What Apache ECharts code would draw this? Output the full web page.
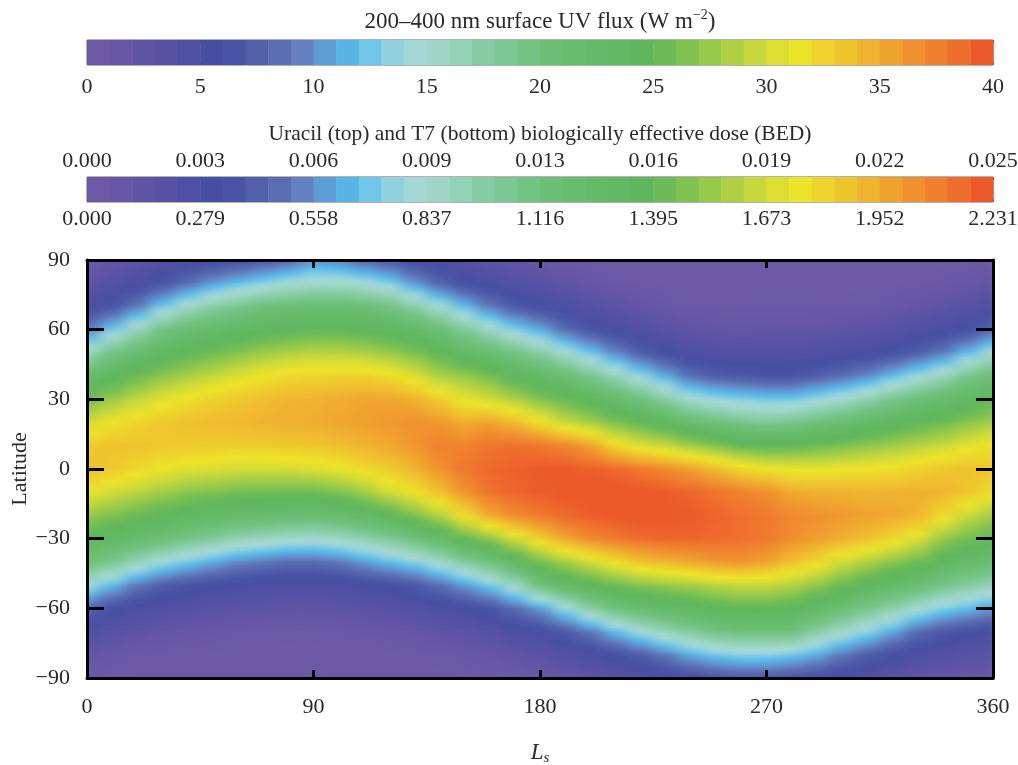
<!DOCTYPE html>
<html><head><meta charset="utf-8">
<script src="https://cdn.jsdelivr.net/npm/echarts/dist/echarts.min.js"></script>
<style>
html,body{margin:0;padding:0;background:#fff;}
#wrap{position:relative;width:1018px;height:765px;overflow:hidden;}
#heatClip{position:absolute;left:87px;top:260px;width:906px;height:418px;overflow:hidden;}
#heat{position:absolute;left:-30px;top:0;width:966px;height:418px;filter:url(#hblur);}
#main{position:absolute;left:0;top:0;width:1018px;height:765px;}
</style></head>
<body>
<svg width="0" height="0" style="position:absolute;left:0;top:0"><defs>
<filter id="hblur" x="0" y="0" width="1" height="1" color-interpolation-filters="sRGB"><feGaussianBlur stdDeviation="8 0"/></filter>
</defs></svg>
<div id="wrap"><div id="heatClip"><div id="heat"></div></div><div id="main"></div></div>
<script>
// ---------- data ----------
const uvTitle = '200–400 nm surface UV flux (W m';
const bedTitle = 'Uracil (top) and T7 (bottom) biologically effective dose (BED)';
const bedTopLabels = ['0.000','0.003','0.006','0.009','0.013','0.016','0.019','0.022','0.025'];
const bedBottomLabels = ['0.000','0.279','0.558','0.837','1.116','1.395','1.673','1.952','2.231'];
const levelColors = [
'#6c5aa6','#6857a6','#6054a5','#5752a5','#4f50a4',
'#474fa3','#4953a6','#5060aa','#5a6cb2','#6480c0',
'#5e9cd6','#58b4e6','#70c6e6','#92d2de','#a4d8d6',
'#a0d6c8','#92d2b6','#86cca4','#7cc894','#72c282',
'#6cbf74','#68bd6c','#64ba66','#62b862','#5fb65c',
'#6cbb58','#80c250','#98ca4a','#b0d044','#c8d83c',
'#dede30','#ece52a','#eed42c','#efc52e','#f0b430',
'#f0a22f','#f0902e','#f0802e','#ef6e2d','#ec5a2a'];
const lsNodes = [0,10,20,30,40,50,60,70,80,90,100,110,120,130,140,150,160,170,180,190,200,210,220,230,240,250,260,270,280,290,300,310,320,330,340,350,360];
const latNodes = [90,80,70,60,50,40,30,20,10,0,-10,-20,-30,-40,-50,-60,-70,-80,-90];
// flux (W m-2) per Ls column, latitude 90 -> -90
const ls000 = [1.1, 2.7, 5.0, 9.2, 16, 21.7, 25.8, 30, 33.3, 33.9, 31.4, 27.5, 23.9, 20.4, 14.5, 8.0, 4.5, 2.3, 0.9];
const ls010 = [1.8, 3.8, 6.5, 12.7, 19.3, 23.6, 27.6, 31.5, 33.6, 33.3, 30, 26.4, 22.9, 18.7, 12, 6.0, 3.5, 1.6, 0.6];
const ls020 = [2.7, 5.0, 9.2, 16, 21.5, 25.4, 29.2, 32.5, 33.6, 32.4, 28.9, 25.4, 21.8, 16.4, 9.2, 5.0, 2.7, 1.1, 0.4];
const ls030 = [3.8, 6.5, 12.7, 19.3, 23.3, 27.0, 30.8, 33.3, 33.4, 31.4, 27.9, 24.3, 20.7, 14.2, 7.5, 4.3, 2.1, 0.8, 0.4];
const ls040 = [4.8, 8.5, 15.3, 21.1, 24.6, 28.2, 31.9, 33.7, 33.2, 30.7, 27.0, 23.3, 19.3, 12.7, 6.5, 3.8, 1.8, 0.7, 0.4];
const ls050 = [5.5, 10.6, 17.3, 22.1, 25.7, 29.3, 32.8, 34, 33.1, 30.4, 26.5, 22.7, 18, 11.3, 5.8, 3.3, 1.5, 0.6, 0.4];
const ls060 = [6.0, 12, 18.7, 23.0, 26.7, 30.4, 33.3, 34.2, 33.0, 30, 26, 22, 16.7, 9.9, 5.3, 2.9, 1.2, 0.5, 0.4];
const ls070 = [7.0, 13.3, 20, 23.8, 27.7, 31.5, 33.9, 34.5, 33.2, 30, 25.8, 21.7, 16, 9.2, 5.0, 2.7, 1.1, 0.5, 0.4];
const ls080 = [8.0, 14.5, 20.4, 24.4, 28.4, 32.2, 34.4, 34.7, 33.3, 30, 25.7, 21.3, 15.3, 8.5, 4.8, 2.5, 1.0, 0.5, 0.4];
const ls090 = [10, 15.1, 20.8, 24.8, 28.8, 32.5, 34.6, 34.9, 33.5, 30.4, 25.7, 21.0, 15.1, 8.5, 4.8, 2.5, 1.0, 0.5, 0.4];
const ls100 = [9.5, 15.1, 20.8, 24.8, 28.8, 32.7, 34.9, 35.2, 33.9, 31.1, 26.5, 21.5, 15.7, 9.2, 5.0, 2.7, 1.1, 0.5, 0.4];
const ls110 = [8.0, 14.5, 20.4, 24.4, 28.4, 32.7, 35.3, 35.6, 34.5, 32.1, 27.9, 22.6, 16.9, 10.6, 5.5, 3.1, 1.4, 0.5, 0.4];
const ls120 = [7.0, 13.2, 19.4, 23.6, 27.6, 32.1, 35.3, 36.0, 35.1, 33.1, 30, 24.1, 18.2, 12, 6.0, 3.5, 1.6, 0.6, 0.4];
const ls130 = [5.5, 10.6, 17.3, 22.4, 26.4, 30.6, 34.7, 36.4, 36.1, 34.4, 31.5, 26.3, 20, 13.3, 7.0, 4.0, 2.0, 0.8, 0.4];
const ls140 = [4.5, 8.0, 14.7, 20.8, 24.6, 28.5, 33.0, 36.2, 37.3, 36.4, 33.6, 28.7, 22, 15.3, 8.5, 4.8, 2.5, 1.0, 0.5];
const ls150 = [3.5, 6.0, 12, 18.2, 22.6, 27.5, 31.0, 34.9, 37.3, 38, 36.2, 31.8, 25, 17.8, 10.6, 5.5, 3.1, 1.4, 0.5];
const ls160 = [2.7, 5.0, 9.2, 15.7, 21.2, 26.0, 30.0, 35.4, 38.2, 38.7, 38.3, 34.9, 27.1, 20, 12.7, 6.5, 3.8, 1.8, 0.7];
const ls170 = [2.0, 4.0, 7.0, 13.2, 19.4, 23.8, 28.5, 34.2, 38.4, 39.2, 39.0, 36.8, 30, 22.9, 15.6, 8.5, 4.8, 2.5, 1.0];
const ls180 = [1.5, 3.3, 5.8, 11.3, 17.5, 22.5, 26.7, 32.0, 38.0, 39.5, 39.4, 37.9, 32.7, 25.9, 20, 10.6, 5.5, 3.1, 1.4];
const ls190 = [1.0, 2.5, 4.8, 8.5, 15.1, 20.9, 25.2, 29.6, 37.2, 39.6, 39.7, 38.8, 35.2, 28.2, 22.4, 14, 7.0, 4.0, 2.0];
const ls200 = [0.7, 1.8, 3.8, 6.5, 12.6, 18.8, 23.6, 28.2, 35.5, 39.3, 39.8, 39.4, 36.8, 30, 24.1, 17.3, 9.2, 5.0, 2.7];
const ls210 = [0.5, 1.2, 2.9, 5.3, 9.9, 16.3, 21.8, 26.4, 32.3, 38.8, 40, 39.8, 37.8, 31.9, 25.6, 20, 12, 6.0, 3.5];
const ls220 = [0.4, 0.8, 2.1, 4.3, 7.5, 13.8, 20, 25, 30.5, 37.8, 39.9, 39.9, 38.6, 33.6, 26.8, 21.6, 14.4, 7.5, 4.3];
const ls230 = [0.4, 0.6, 1.5, 3.3, 5.8, 11.3, 17.5, 23.5, 29.4, 36.9, 39.5, 39.8, 38.9, 34.5, 27.5, 22.5, 16.4, 9.2, 5.0];
const ls240 = [0.4, 0.4, 1.0, 2.5, 4.8, 8.5, 15.1, 21.3, 28, 35.6, 39.0, 39.5, 39.0, 35.2, 28.1, 23.3, 18, 11.3, 5.8];
const ls250 = [0.4, 0.4, 0.8, 2.1, 4.3, 7.5, 13.8, 20, 26.7, 34.1, 38.2, 39.0, 38.7, 36.0, 29.0, 24.3, 19.3, 12.7, 6.5];
const ls260 = [0.4, 0.5, 0.8, 2.0, 4.0, 7.0, 13.1, 18.9, 25.3, 32.5, 37.3, 38.4, 38.4, 36.3, 29.5, 24.8, 20, 13.3, 7.0];
const ls270 = [0.4, 0.5, 0.9, 2.2, 4.2, 6.5, 12.6, 18.3, 24.7, 31.6, 36.6, 37.9, 37.9, 35.5, 29.5, 24.8, 20, 13.3, 7.0];
const ls280 = [0.4, 0.5, 0.9, 2.2, 4.2, 6.5, 12.6, 18.8, 25, 31.1, 35.1, 37.0, 36.7, 33.7, 28.7, 24.3, 20, 12.7, 6.5];
const ls290 = [0.4, 0.5, 0.8, 2.1, 4.3, 7.5, 13.8, 20, 25.6, 31.0, 34.7, 36.4, 35.8, 32.2, 27.3, 22.7, 17.5, 11.3, 5.8];
const ls300 = [0.4, 0.4, 1.0, 2.5, 4.8, 8.5, 15.1, 21.1, 26.3, 31.4, 34.6, 36.0, 34.8, 30, 25.5, 20.9, 15.4, 9.2, 5.0];
const ls310 = [0.4, 0.5, 1.2, 2.9, 5.3, 9.9, 16.7, 22.4, 27.1, 31.6, 34.4, 35.5, 33.8, 28.6, 23.8, 18.9, 13.6, 7.5, 4.3];
const ls320 = [0.4, 0.6, 1.6, 3.5, 6.0, 12, 18.7, 23.5, 27.8, 31.9, 34.5, 35.2, 32.4, 27.1, 22.4, 17.1, 11.3, 5.8, 3.3];
const ls330 = [0.4, 0.8, 2.1, 4.3, 7.5, 14, 20.4, 24.6, 28.8, 32.7, 34.7, 34.5, 30.6, 25.7, 21.0, 15.1, 8.5, 4.8, 2.5];
const ls340 = [0.4, 1.1, 2.7, 5.0, 9.2, 16, 21.6, 25.6, 29.6, 33.3, 34.5, 32.2, 27.6, 23.6, 19.4, 13.2, 7.0, 4.0, 2.0];
const ls350 = [0.6, 1.6, 3.5, 6.0, 12, 18.7, 23.1, 26.9, 30.9, 33.7, 33.5, 29.6, 25.9, 22.2, 17.7, 12, 6.0, 3.5, 1.6];
const ls360 = [0.9, 2.3, 4.5, 8.0, 14.7, 20.7, 24.4, 28.1, 31.8, 33.5, 31.9, 28, 24.7, 21.3, 16.6, 10.6, 5.5, 3.1, 1.4];
const fluxColumns = [ls000,ls010,ls020,ls030,ls040,ls050,ls060,ls070,ls080,ls090,ls100,ls110,ls120,ls130,ls140,ls150,ls160,ls170,ls180,ls190,ls200,ls210,ls220,ls230,ls240,ls250,ls260,ls270,ls280,ls290,ls300,ls310,ls320,ls330,ls340,ls350,ls360];

// ---------- build ----------
const FONT = 'Liberation Serif';
const TXT = '#2a2a2a';
const nLev = levelColors.length;
const pieces = levelColors.map((c, i) => (i === nLev - 1 ? {gte: i, lte: i + 1, color: c} : {gte: i, lt: i + 1, color: c}));
const levelData = levelColors.map((c, i) => [i, i + 1, i + 0.5]);

function colorAt(v) {
  const t = Math.max(0, Math.min(1, (v - 0.5) / (nLev - 1)));
  return echarts.color.lerp(t, levelColors);
}
function gradStops(a, b) {
  const s = [{offset: 0, color: colorAt(a)}];
  const lo = Math.min(a, b), hi = Math.max(a, b);
  if (hi > lo) {
    for (let k = 0; k < nLev; k++) {
      const m = k + 0.5;
      if (m > lo && m < hi) s.push({offset: (m - a) / (b - a), color: levelColors[k]});
    }
  }
  s.push({offset: 1, color: colorAt(b)});
  s.sort((p, q) => p.offset - q.offset);
  return s;
}

// field cells: column at each Ls node, one cell per latitude interval
const halfStep = (lsNodes[1] - lsNodes[0]) / 2;
const cellData = [];
fluxColumns.forEach((col, i) => {
  for (let r = 0; r < latNodes.length - 1; r++) {
    cellData.push([lsNodes[i], latNodes[r], latNodes[r + 1], col[r], col[r + 1]]);
  }
});
function cellRender(params, api) {
  const ls = api.value(0);
  const p0 = api.coord([ls - halfStep, api.value(1)]);
  const p1 = api.coord([ls + halfStep, api.value(2)]);
  return {type: 'rect',
    shape: {x: p0[0] - 0.4, y: p0[1] - 0.4, width: p1[0] - p0[0] + 0.8, height: p1[1] - p0[1] + 0.8},
    style: {fill: {type: 'linear', x: 0, y: 0, x2: 0, y2: 1, colorStops: gradStops(api.value(3), api.value(4))}}};
}

const lsMin = lsNodes[0] - halfStep, lsMax = lsNodes[lsNodes.length - 1] + halfStep;
const pxPerLs = 906 / (lsNodes[lsNodes.length - 1] - lsNodes[0]);
const heat = echarts.init(document.getElementById('heat'), null, {renderer: 'canvas'});
heat.setOption({
  animation: false,
  grid: {left: 30 - halfStep * pxPerLs, top: 0, width: (lsMax - lsMin) * pxPerLs, height: 418, outerBoundsMode: 'none'},
  xAxis: {type: 'value', min: lsMin, max: lsMax, show: false},
  yAxis: {type: 'value', min: -90, max: 90, show: false},
  series: [{type: 'custom', data: cellData, encode: {x: 0, y: 1}, renderItem: cellRender, silent: true}]
});

// main layer
function barRender(params, api) {
  const p0 = api.coord([api.value(0), 0]);
  const p1 = api.coord([api.value(1), 1]);
  return {type: 'rect', shape: {x: p0[0], y: p1[1], width: p1[0] - p0[0] + 0.5, height: p0[1] - p1[1]},
          style: {fill: api.visual('color')}};
}
const tickLbl = {fontFamily: FONT, fontSize: 22, color: TXT};
const cbTick = {show: true, inside: true, length: 3, lineStyle: {color: '#555', width: 1}};
const main = echarts.init(document.getElementById('main'), null, {renderer: 'canvas'});
main.setOption({
  animation: false,
  backgroundColor: 'transparent',
  graphic: [
    {type: 'text', x: 540, y: 22, style: {
      text: '{t|' + uvTitle + '}{sup|−2}{t|)}',
      align: 'center', verticalAlign: 'middle',
      rich: {t: {fontFamily: FONT, fontSize: 23, fill: TXT, color: TXT, lineHeight: 28},
             sup: {fontFamily: FONT, fontSize: 14, fill: TXT, color: TXT, verticalAlign: 'top', lineHeight: 16}}}},
    {type: 'text', x: 540, y: 134, style: {
      text: bedTitle, align: 'center', verticalAlign: 'middle',
      fontFamily: FONT, fontSize: 21.5, fill: TXT}}
  ],
  grid: [
    {left: 87, top: 40, width: 906, height: 25, show: true, borderColor: '#666', borderWidth: 1, backgroundColor: 'transparent', outerBoundsMode: 'none'},
    {left: 87, top: 177, width: 906, height: 25, show: true, borderColor: '#666', borderWidth: 1, backgroundColor: 'transparent', outerBoundsMode: 'none'},
    {left: 87, top: 260, width: 906, height: 418, show: false, outerBoundsMode: 'none'}
  ],
  xAxis: [
    {gridIndex: 0, type: 'value', min: 0, max: 40, interval: 2.5, position: 'bottom',
     axisLine: {show: false}, axisTick: cbTick, splitLine: {show: false},
     axisLabel: Object.assign({margin: 11, formatter: v => (v % 5 === 0 ? String(v) : '')}, tickLbl)},
    {gridIndex: 0, type: 'value', min: 0, max: 40, interval: 2.5, position: 'top',
     axisLine: {show: false}, axisTick: cbTick, splitLine: {show: false}, axisLabel: {show: false}},
    {gridIndex: 1, type: 'value', min: 0, max: 40, interval: 2.5, position: 'bottom',
     axisLine: {show: false}, axisTick: cbTick, splitLine: {show: false},
     axisLabel: Object.assign({margin: 6, formatter: v => (v % 5 === 0 ? bedBottomLabels[v / 5] : '')}, tickLbl)},
    {gridIndex: 1, type: 'value', min: 0, max: 40, interval: 2.5, position: 'top',
     axisLine: {show: false}, axisTick: cbTick, splitLine: {show: false},
     axisLabel: Object.assign({margin: 5, formatter: v => (v % 5 === 0 ? bedTopLabels[v / 5] : '')}, tickLbl)},
    {gridIndex: 2, type: 'value', min: 0, max: 360, interval: 90, position: 'bottom',
     axisLine: {show: true, onZero: false, lineStyle: {color: '#000', width: 3}},
     axisTick: {show: true, inside: true, length: 8, lineStyle: {color: '#000', width: 3}},
     splitLine: {show: false},
     axisLabel: Object.assign({margin: 18}, tickLbl),
     name: '{L|L}{s|s}', nameLocation: 'middle', nameGap: 62, nameMoveOverlap: false,
     nameTextStyle: {rich: {
       L: {fontFamily: FONT, fontStyle: 'italic', fontSize: 23, color: TXT, lineHeight: 26},
       s: {fontFamily: FONT, fontStyle: 'italic', fontSize: 15, color: TXT, verticalAlign: 'bottom', lineHeight: 14}}}},
    {gridIndex: 2, type: 'value', min: 0, max: 360, interval: 90, position: 'top',
     axisLine: {show: true, onZero: false, lineStyle: {color: '#000', width: 3}},
     axisTick: {show: true, inside: true, length: 8, lineStyle: {color: '#000', width: 3}},
     splitLine: {show: false}, axisLabel: {show: false}}
  ],
  yAxis: [
    {gridIndex: 0, type: 'value', min: 0, max: 1, show: false},
    {gridIndex: 1, type: 'value', min: 0, max: 1, show: false},
    {gridIndex: 2, type: 'value', min: -90, max: 90, interval: 30, position: 'left',
     axisLine: {show: true, onZero: false, lineStyle: {color: '#000', width: 3}},
     axisTick: {show: true, inside: true, length: 17, lineStyle: {color: '#000', width: 3}},
     splitLine: {show: false},
     axisLabel: Object.assign({margin: 17, formatter: v => (v < 0 ? '−' + (-v) : String(v))}, tickLbl),
     name: 'Latitude', nameLocation: 'middle', nameGap: 56, nameMoveOverlap: false,
     nameTextStyle: {fontFamily: FONT, fontSize: 22, color: TXT}},
    {gridIndex: 2, type: 'value', min: -90, max: 90, interval: 30, position: 'right',
     axisLine: {show: true, onZero: false, lineStyle: {color: '#000', width: 3}},
     axisTick: {show: true, inside: true, length: 17, lineStyle: {color: '#000', width: 3}},
     splitLine: {show: false}, axisLabel: {show: false}}
  ],
  visualMap: {type: 'piecewise', show: false, dimension: 2, seriesIndex: [0, 1], pieces: pieces},
  series: [
    {type: 'custom', xAxisIndex: 0, yAxisIndex: 0, data: levelData, encode: {x: [0, 1], y: 2}, renderItem: barRender, silent: true, z: 1},
    {type: 'custom', xAxisIndex: 2, yAxisIndex: 1, data: levelData, encode: {x: [0, 1], y: 2}, renderItem: barRender, silent: true, z: 1}
  ]
});
</script></body></html>
